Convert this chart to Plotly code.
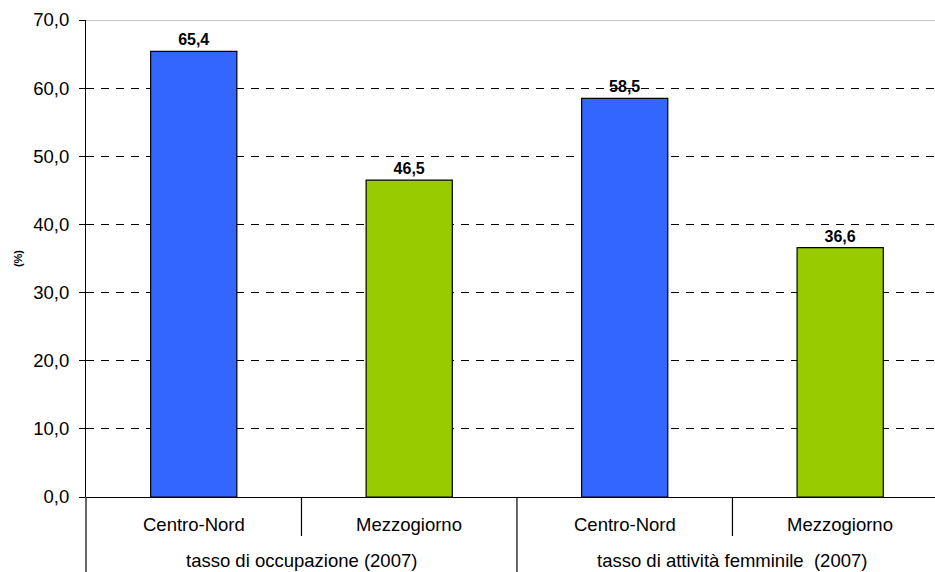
import plotly.graph_objects as go

categories = ["Centro-Nord", "Mezzogiorno", "Centro-Nord", "Mezzogiorno"]
groups = ["tasso di occupazione (2007)", "tasso di attività femminile  (2007)"]
values = [65.4, 46.5, 58.5, 36.6]
colors = ["#3366FF", "#99CC00", "#3366FF", "#99CC00"]
y_ticks = [0, 10, 20, 30, 40, 50, 60, 70]

W, H = 935, 572
ML, MR, MT, MB = 86, 0, 20, 75
plot_h = H - MT - MB

xpos = list(range(len(categories)))

fig = go.Figure()
fig.add_trace(go.Bar(
    x=xpos, y=values, width=0.4,
    marker=dict(color=colors, line=dict(color="#000000", width=1.2)),
    texttemplate="%{y:.1f}", textposition="outside",
    textfont=dict(family="Liberation Sans, Arial", size=16, color="#000000", weight="bold"),
    cliponaxis=False, showlegend=False, hoverinfo="skip",
))

font = dict(family="Liberation Sans, Arial", size=18.5, color="#000000")

shapes = []
annotations = []
# top border line
shapes.append(dict(type="line", xref="paper", yref="y", x0=0, x1=1, y0=70, y1=70,
                   line=dict(color="#8c8c8c", width=1.2), layer="above"))
# left axis extension down to bottom
shapes.append(dict(type="line", xref="paper", yref="paper", x0=0, x1=0, y0=0, y1=-MB / plot_h,
                   line=dict(color="#000000", width=1.2)))
# dividers between categories (outer ones span both label rows)
for i in range(len(categories) - 1):
    xb = i + 0.5
    outer = (i + 1) % 2 == 0
    y1 = -MB / plot_h if outer else -39 / plot_h
    shapes.append(dict(type="line", xref="x", yref="paper", x0=xb, x1=xb, y0=0, y1=y1,
                       line=dict(color="#000000", width=1.2)))
for i, c in enumerate(categories):
    annotations.append(dict(x=i, y=0, xref="x", yref="paper", text=c, showarrow=False,
                            yanchor="middle", yshift=-27, font=font))
for g, name in enumerate(groups):
    annotations.append(dict(x=2 * g + 0.5, y=0, xref="x", yref="paper", text=name, showarrow=False,
                            yanchor="middle", yshift=-63, font=font))

fig.update_layout(
    width=W, height=H,
    margin=dict(l=ML, r=MR, t=MT, b=MB, pad=0),
    paper_bgcolor="white", plot_bgcolor="white",
    separators=",.",
    bargap=0.6,
    shapes=shapes, annotations=annotations,
    xaxis=dict(range=[-0.5, 3.44], showticklabels=False, showgrid=False, zeroline=False,
               showline=False, ticks="", fixedrange=True),
    yaxis=dict(range=[0, 70], tickvals=y_ticks, tickformat=".1f", showgrid=True,
               gridcolor="#000000", gridwidth=1, griddash="8px,7px",
               zeroline=True, zerolinecolor="#000000", zerolinewidth=1.2,
               showline=True, linecolor="#000000", linewidth=1.2,
               ticks="outside", ticklen=6, tickcolor="#000000", tickwidth=1,
               ticklabelstandoff=6, fixedrange=True,
               tickfont=font,
               title=dict(text="<b>(%)</b>", font=dict(family="Liberation Sans, Arial", size=11, color="#000000"),
                          standoff=8)),
)

fig.write_html("out.html", config={"displayModeBar": False},
               post_script="document.body.style.margin='0';document.body.style.overflow='hidden';")
